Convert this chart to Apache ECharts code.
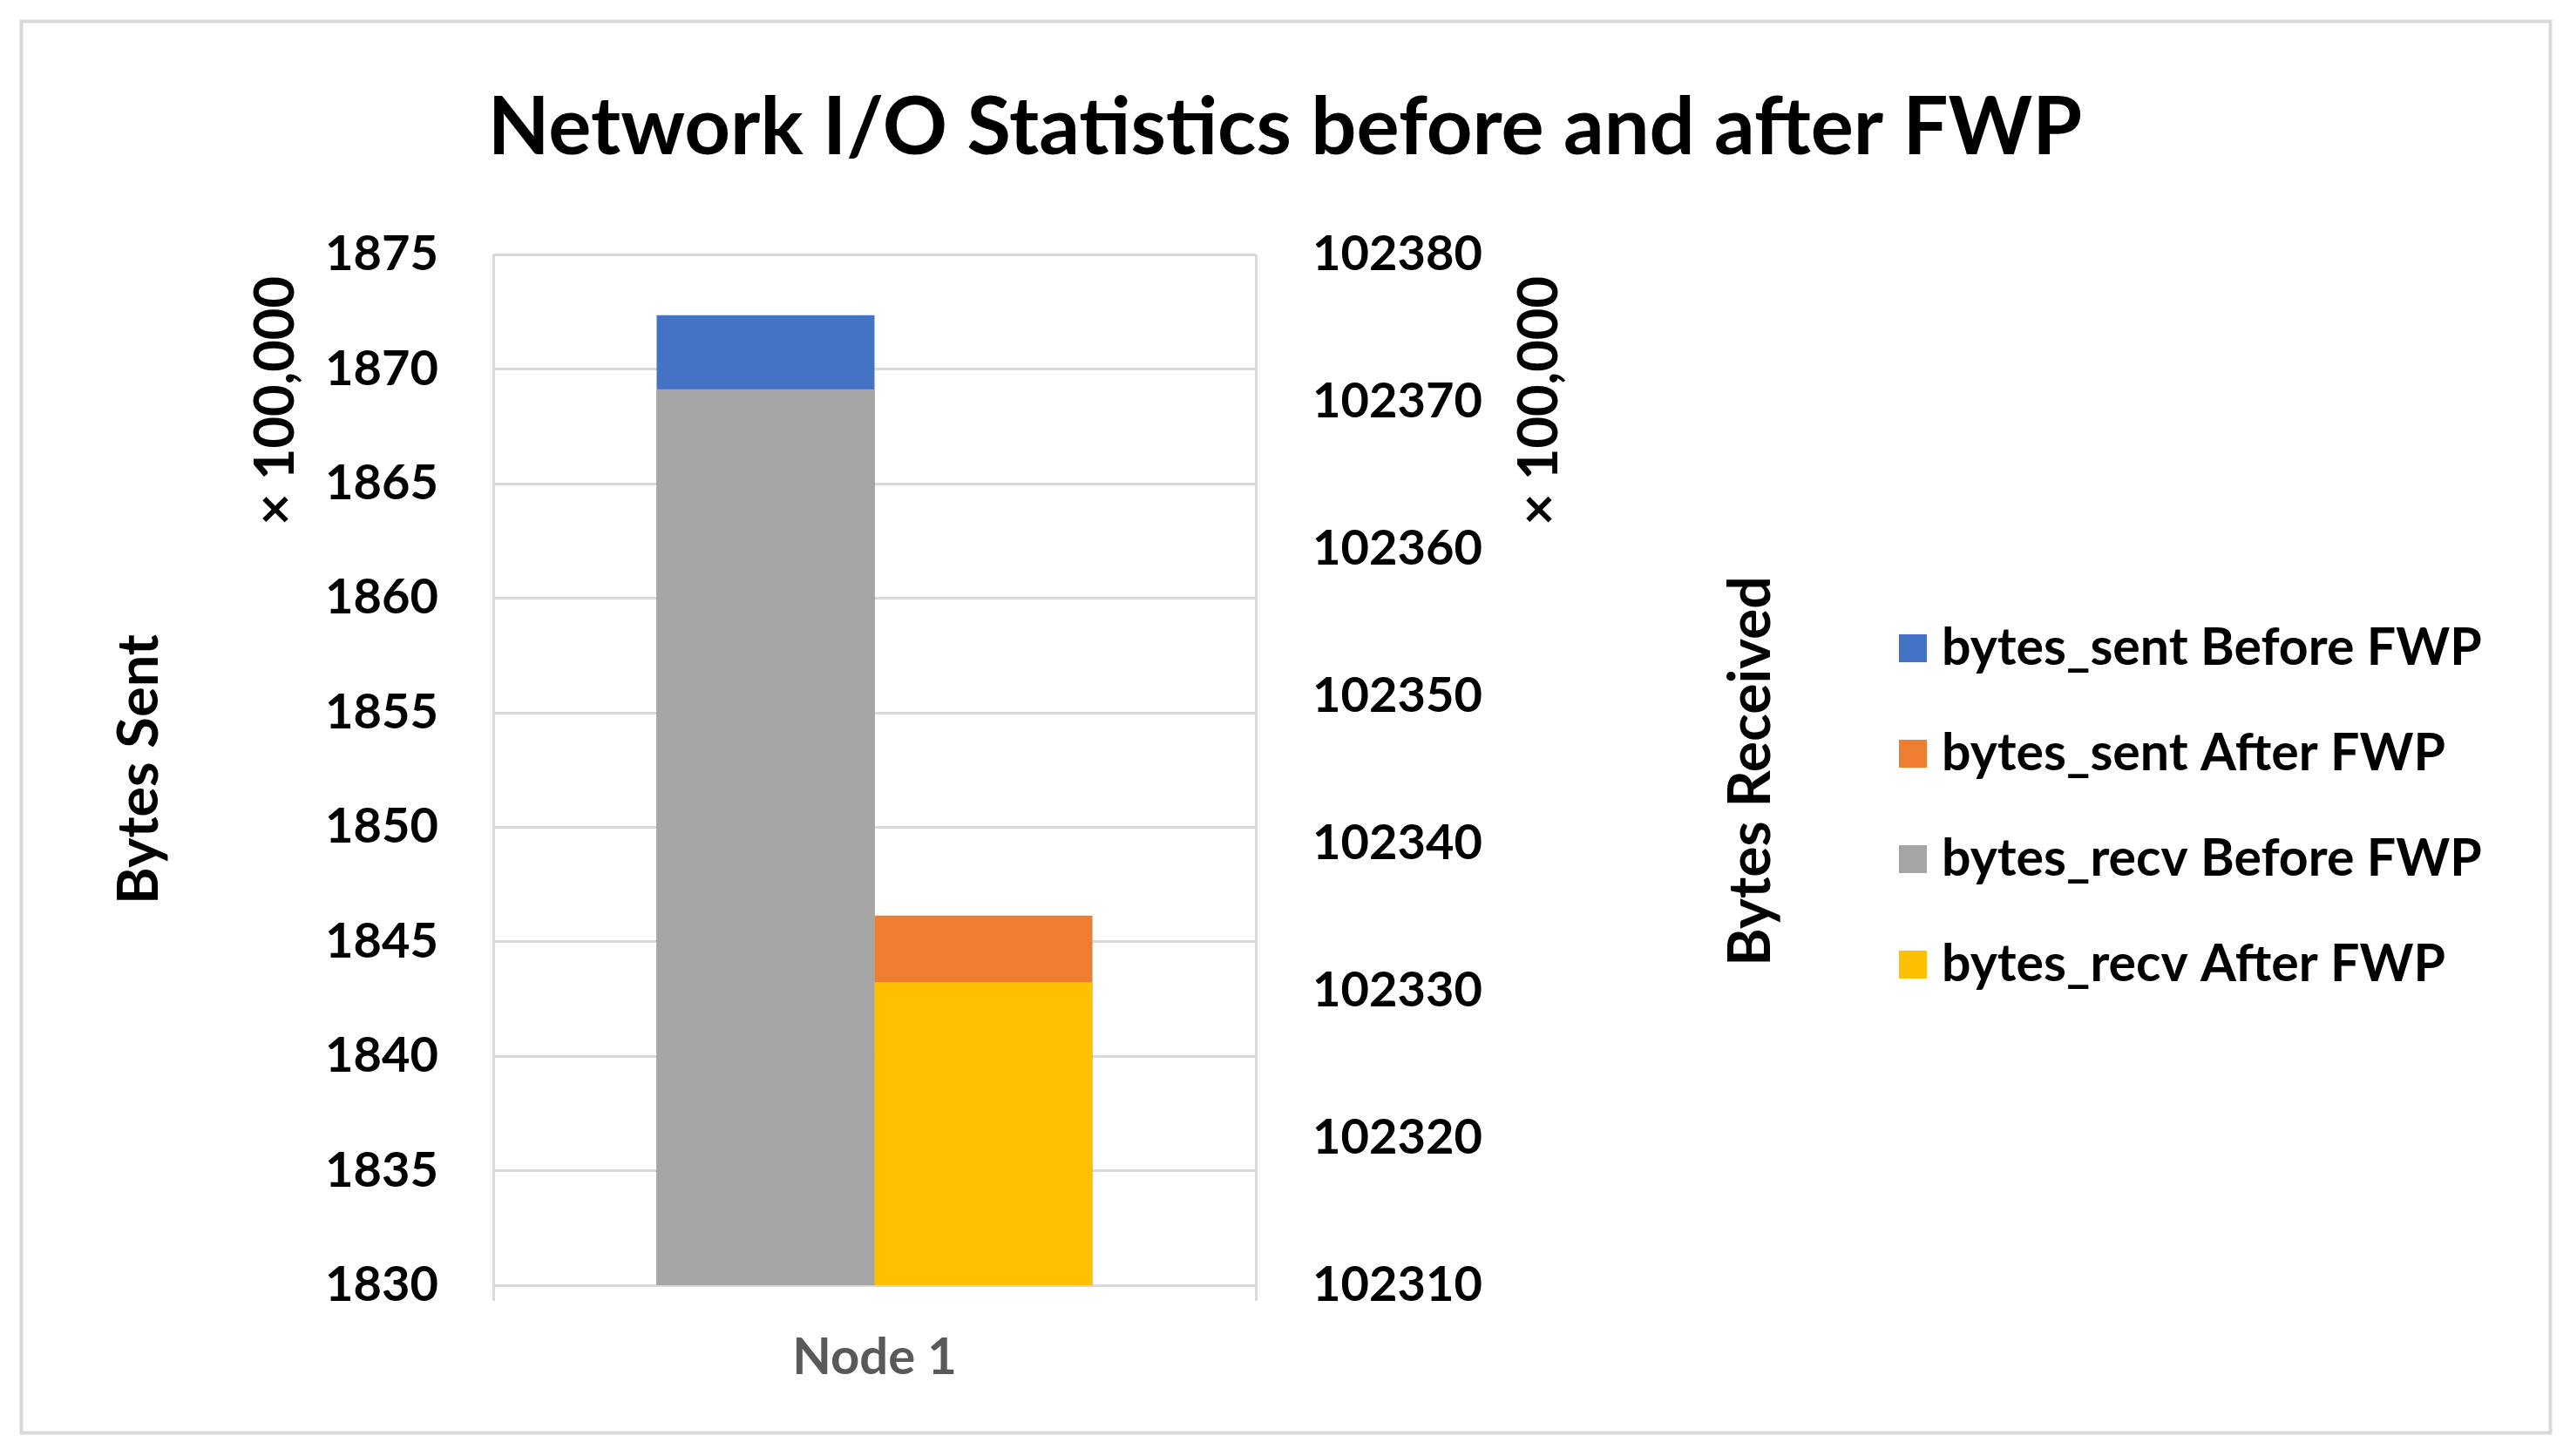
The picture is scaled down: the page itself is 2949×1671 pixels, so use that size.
<!DOCTYPE html>
<html>
<head>
<meta charset="utf-8">
<script src="https://cdn.jsdelivr.net/npm/echarts@6/dist/echarts.min.js"></script>
<style>
html,body{margin:0;padding:0;background:#fff;}
#chart{width:2949px;height:1671px;}
</style>
</head>
<body>
<div id="chart"></div>
<script>
const categories = ['Node 1'];
const sentBefore = [1872.35];
const sentAfter = [1846.14];
const recvBefore = [102370.85];
const recvAfter = [102330.57];
const seriesNames = ['bytes_sent Before FWP', 'bytes_sent After FWP', 'bytes_recv Before FWP', 'bytes_recv After FWP'];
const titleText = 'Network I/O Statistics before and after FWP';
const leftAxisTitle = 'Bytes Sent';
const rightAxisTitle = 'Bytes Received';
const unitLabel = '× 100,000';

const FONT = 'Lato';
const chart = echarts.init(document.getElementById('chart'), null, {renderer: 'canvas'});
const gridColor = '#d9d9d9';
const plain = v => String(v);

const option = {
  backgroundColor: '#ffffff',
  animation: false,
  title: {
    text: titleText,
    left: 'center',
    top: 96,
    textStyle: {fontFamily: FONT, fontWeight: 'bold', fontSize: 92, color: '#000'}
  },
  legend: {
    orient: 'vertical',
    left: 2174,
    top: 709,
    itemWidth: 32,
    itemHeight: 32,
    itemGap: 61,
    icon: 'rect',
    data: seriesNames,
    textStyle: {fontFamily: FONT, fontWeight: 'bold', fontSize: 59, color: '#000', lineHeight: 60, padding: [0, 0, 0, 12]}
  },
  grid: {left: 566, top: 292, width: 875, height: 1183, containLabel: false},
  xAxis: [
    {
      type: 'category',
      data: categories,
      axisLine: {show: true, lineStyle: {color: gridColor, width: 3}},
      axisTick: {show: true, length: 18, lineStyle: {color: gridColor, width: 3}},
      splitLine: {show: true, lineStyle: {color: gridColor, width: 3}},
      axisLabel: {fontFamily: FONT, fontWeight: 'bold', fontSize: 58, color: '#595959', margin: 54}
    },
    {
      type: 'category',
      data: categories,
      show: false
    }
  ],
  yAxis: [
    {
      type: 'value',
      min: 1830, max: 1875, interval: 5,
      position: 'left',
      axisLine: {show: false},
      axisTick: {show: false},
      splitLine: {show: true, lineStyle: {color: gridColor, width: 3}},
      axisLabel: {fontFamily: FONT, fontWeight: 'bold', fontSize: 56, color: '#000', margin: 63, formatter: plain}
    },
    {
      type: 'value',
      min: 102310, max: 102380, interval: 10,
      position: 'right',
      axisLine: {show: false},
      axisTick: {show: false},
      splitLine: {show: false},
      axisLabel: {fontFamily: FONT, fontWeight: 'bold', fontSize: 56, color: '#000', margin: 65, formatter: plain}
    }
  ],
  series: [
    {name: seriesNames[0], type: 'bar', xAxisIndex: 0, yAxisIndex: 0, data: sentBefore, barWidth: 250, barGap: '0%', itemStyle: {color: '#4472C4'}},
    {name: seriesNames[1], type: 'bar', xAxisIndex: 0, yAxisIndex: 0, data: sentAfter, barWidth: 250, barGap: '0%', itemStyle: {color: '#ED7D31'}},
    {name: seriesNames[2], type: 'bar', xAxisIndex: 1, yAxisIndex: 1, data: recvBefore, barWidth: 250, barGap: '0%', itemStyle: {color: '#A5A5A5'}},
    {name: seriesNames[3], type: 'bar', xAxisIndex: 1, yAxisIndex: 1, data: recvAfter, barWidth: 250, barGap: '0%', itemStyle: {color: '#FFC000'}}
  ],
  graphic: [
    {type: 'rect', left: 22, top: 22, shape: {width: 2902, height: 1620}, style: {fill: 'none', stroke: gridColor, lineWidth: 4}, z: -10, silent: true},
    {type: 'text', x: 160, y: 883, rotation: Math.PI / 2, style: {text: leftAxisTitle, fontFamily: FONT, fontWeight: 'bold', fontSize: 65, fill: '#000', align: 'center', verticalAlign: 'middle'}},
    {type: 'text', x: 2010, y: 885, rotation: Math.PI / 2, style: {text: rightAxisTitle, fontFamily: FONT, fontWeight: 'bold', fontSize: 66, fill: '#000', align: 'center', verticalAlign: 'middle'}},
    {type: 'text', x: 317, y: 460, rotation: Math.PI / 2, style: {text: unitLabel, fontFamily: FONT, fontWeight: 'bold', fontSize: 63, fill: '#000', align: 'center', verticalAlign: 'middle'}},
    {type: 'text', x: 1767, y: 460, rotation: Math.PI / 2, style: {text: unitLabel, fontFamily: FONT, fontWeight: 'bold', fontSize: 63, fill: '#000', align: 'center', verticalAlign: 'middle'}}
  ]
};
chart.setOption(option);
</script>
</body>
</html>
